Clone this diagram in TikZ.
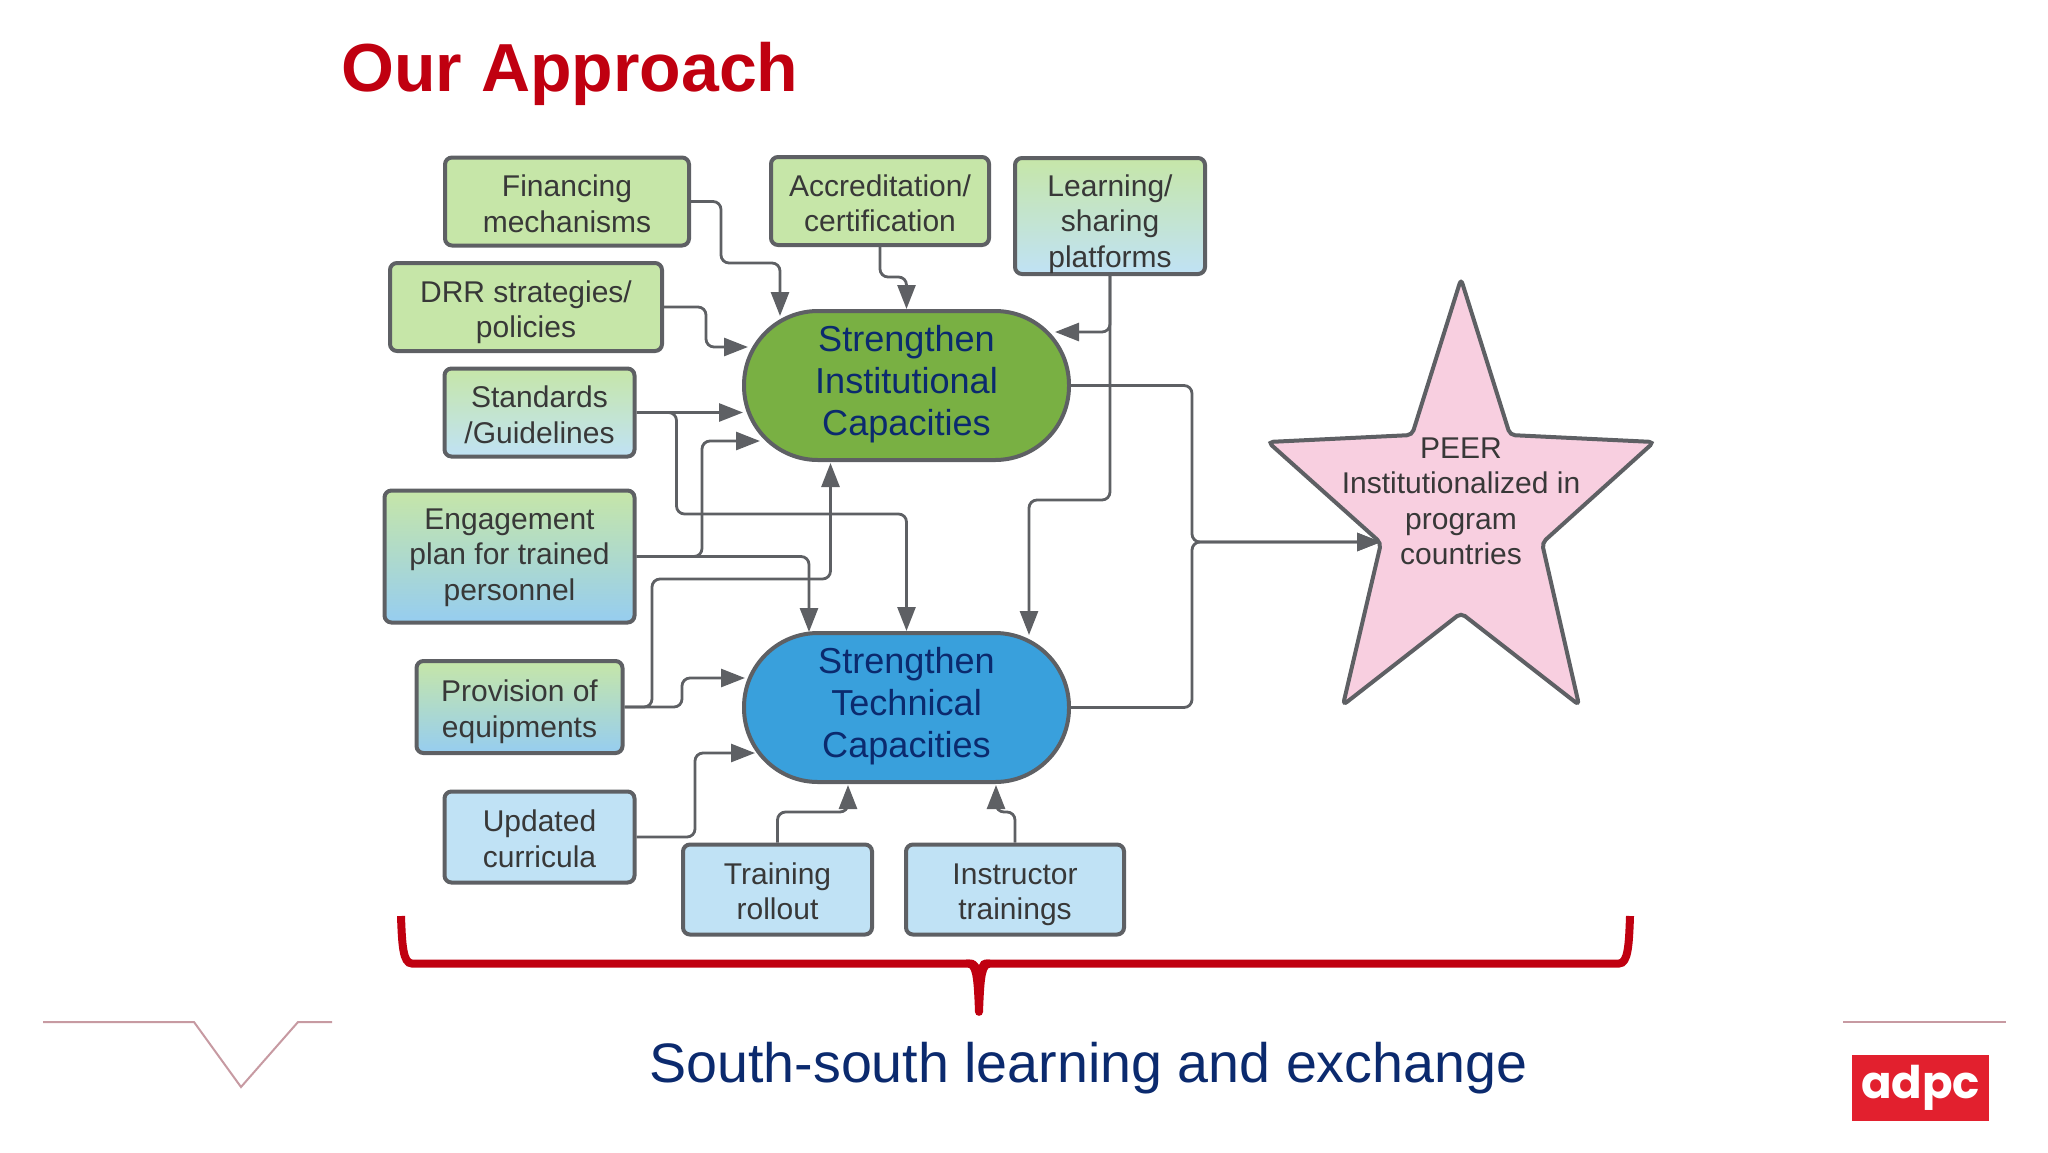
\documentclass[tikz,border=0pt]{standalone}
\usepackage{fontspec}
\setmainfont{Liberation Sans}
\newfontfamily\logofont{Poppins}
\usetikzlibrary{arrows.meta}
\definecolor{edgegrey}{HTML}{5E6064}
\definecolor{boxgreen}{HTML}{C6E6A8}
\definecolor{boxblue}{HTML}{C0E2F5}
\definecolor{deepblue}{HTML}{96CDF0}
\definecolor{navytext}{HTML}{0B2A6E}
\definecolor{bracered}{HTML}{C00010}
\definecolor{linepink}{HTML}{C79AA2}
\definecolor{instgreen}{HTML}{79B043}
\definecolor{techblue}{HTML}{39A0DC}
\definecolor{starpink}{HTML}{F8CFE0}
\definecolor{logored}{HTML}{E2202E}
\tikzset{
  inbox/.style={draw=edgegrey, line width=2pt, rounded corners=3.5pt, align=center,
    inner sep=0pt, text=black!78, font=\fontsize{15}{17.75}\selectfont, text height=30.7pt, text depth=0pt},
  greenbox/.style={inbox, fill=boxgreen},
  bluebox/.style={inbox, fill=boxblue},
  mixbox/.style={inbox, top color=boxgreen, bottom color=boxblue},
  deepbox/.style={inbox, top color=boxgreen, middle color=boxblue!75!boxgreen, bottom color=deepblue},
  pill/.style={draw=edgegrey, line width=2pt, rounded corners=37pt, align=center, inner sep=0pt,
    minimum width=162.5pt, minimum height=74.5pt, text=navytext, font=\fontsize{18.05}{21}\selectfont,
    text height=49.6pt, text depth=0pt},
  conn/.style={draw=edgegrey, line width=1.4pt, rounded corners=4pt,
    -{Triangle[length=12pt,width=9pt]}}
}
\begin{document}
\begin{tikzpicture}[x=0.5pt,y=-0.5pt]
  \useasboundingbox (0,0) rectangle (2048,1152);

  \node[text=bracered, font=\fontsize{34}{40}\selectfont\bfseries, inner sep=0pt, anchor=base west] (title) at (341,91) {Our Approach};

  \node[greenbox, minimum width=122pt, minimum height=44pt] (finance) at (567,201.5) {Financing\\mechanisms};
  \node[greenbox, minimum width=109pt, minimum height=44pt] (accred) at (880,201) {Accreditation/\\certification};
  \node[mixbox, text height=51pt, minimum width=95pt, minimum height=58pt] (learn) at (1110,216) {Learning/\\sharing\\platforms};
  \node[greenbox, minimum width=136pt, minimum height=44pt] (drr) at (526,307) {DRR strategies/\\policies};
  \node[inbox, top color=boxgreen, middle color=boxgreen!60!boxblue, bottom color=boxblue, minimum width=95pt, minimum height=44pt] (standard) at (539.5,412.5) {Standards\\/Guidelines};
  \node[deepbox, text height=43.5pt, minimum width=125pt, minimum height=66pt] (engage) at (509.5,556.5) {Engagement\\plan for trained\\personnel};
  \node[deepbox, text height=30pt, minimum width=103pt, minimum height=46pt] (provide) at (519.5,707) {Provision of\\equipments};
  \node[bluebox, text height=30pt, minimum width=95pt, minimum height=45.5pt] (curricula) at (539.5,837) {Updated\\curricula};
  \node[bluebox, text height=30pt, minimum width=94.5pt, minimum height=45pt] (rollout) at (777.5,889.5) {Training\\rollout};
  \node[bluebox, text height=30pt, minimum width=109pt, minimum height=45pt] (instructor) at (1015,889.5) {Instructor\\trainings};

  \node[pill, fill=instgreen] (inst) at (906.5,385.5) {Strengthen\\Institutional\\Capacities};
  \node[pill, fill=techblue] (tech) at (906.5,707.5) {Strengthen\\Technical\\Capacities};

  \draw[draw=edgegrey, line width=2pt, fill=starpink, rounded corners=2.5pt]
    (1461,279) -- (1510,435) -- (1654,442) -- (1542,543) -- (1579,705) -- (1461,613)
    -- (1343,705) -- (1381,543) -- (1268,442) -- (1412,435) -- cycle;
  \node[align=center, inner sep=0pt, text=black!78, font=\fontsize{15}{17.75}\selectfont] (peer) at (1461,501.5) {PEER\\Institutionalized in\\program\\countries};

  \coordinate (instA) at (780,316);
  \coordinate (instB) at (748,347);
  \coordinate (instC) at (1055,332);
  \coordinate (instD) at (743,412.5);
  \coordinate (instE) at (760,441);
  \coordinate (instF) at (830.5,463);
  \coordinate (techA) at (809,632);
  \coordinate (techB) at (1029,635);
  \coordinate (techC) at (745,678);
  \coordinate (techD) at (755,753);
  \coordinate (techE) at (848,785);
  \coordinate (techF) at (996,785);
  \coordinate (starin) at (1381,542);
  \coordinate (joint) at (1192,542);

  \begin{scope}[conn]
    \draw[conn] (finance.east) -- (721,201.5) -- (721,263) -- (780,263) -- (instA);
    \draw[conn] (accred.south) -- (880,277) -- (906.5,277) -- (inst.north);
    \draw[conn] (drr.east) -- (706,307) -- (706,347) -- (instB);
    \draw[conn] (learn.south) -- (1110,332) -- (instC);
    \draw[conn] (learn.south) -- (1110,500) -- (1029,500) -- (techB);
    \draw[conn] (standard.east) -- (instD);
    \draw[conn] (standard.east) -- (676.5,412.5) -- (676.5,514) -- (906.5,514) -- (tech.north);
    \draw[conn] (engage.east) -- (702,556.5) -- (702,441) -- (instE);
    \draw[conn] (engage.east) -- (809,556.5) -- (techA);
    \draw[conn] (provide.east) -- (652,707) -- (652,579) -- (830.5,579) -- (instF);
    \draw[conn] (provide.east) -- (682,707) -- (682,678) -- (techC);
    \draw[conn] (curricula.east) -- (695,837) -- (695,753) -- (techD);
    \draw[conn] (rollout.north) -- (777.5,812) -- (848,812) -- (techE);
    \draw[conn] (instructor.north) -- (1015,812) -- (996,812) -- (techF);
    \draw[conn] (inst.east) -- (1192,385.5) -- (joint) -- (starin);
    \draw[conn] (tech.east) -- (1192,707.5) -- (joint) -- (starin);
  \end{scope}

  \draw[bracered, line width=4pt] (401,916) .. controls (402,945) and (403,963.5) .. (412,963.5) -- (970,963.5);
  \draw[bracered, line width=4pt] (1630,916) .. controls (1629,945) and (1628,963.5) .. (1619,963.5) -- (986,963.5);
  \fill[bracered] (966,959.5) -- (971,959.5) .. controls (974,959.5) and (977,962) .. (979,965)
    .. controls (980,962) and (982,959.5) .. (985,959.5) -- (990,959.5) -- (990,967.5)
    .. controls (985,967.5) and (984,985) .. (983,1012)
    .. controls (983,1017) and (975,1017) .. (975,1012)
    .. controls (974,985) and (973,967.5) .. (968,967.5) -- cycle;

  \draw[linepink, line width=1pt] (43,1022) -- (194,1022) -- (241,1087) -- (298,1022) -- (332,1022);
  \draw[linepink, line width=1.2pt] (1843,1022) -- (2006,1022);

  \node[text=navytext, font=\fontsize{27.8}{33}\selectfont, inner sep=0pt, anchor=base west] (exchange) at (649,1082) {South-south learning and exchange};

  \node[fill=logored, minimum width=68.5pt, minimum height=33pt, inner sep=0pt, text=white, yshift=-0.5pt, font=\logofont\fontsize{22.5}{24}\selectfont\bfseries] (logo) at (1920.5,1087) {adpc};
\end{tikzpicture}
\end{document}
